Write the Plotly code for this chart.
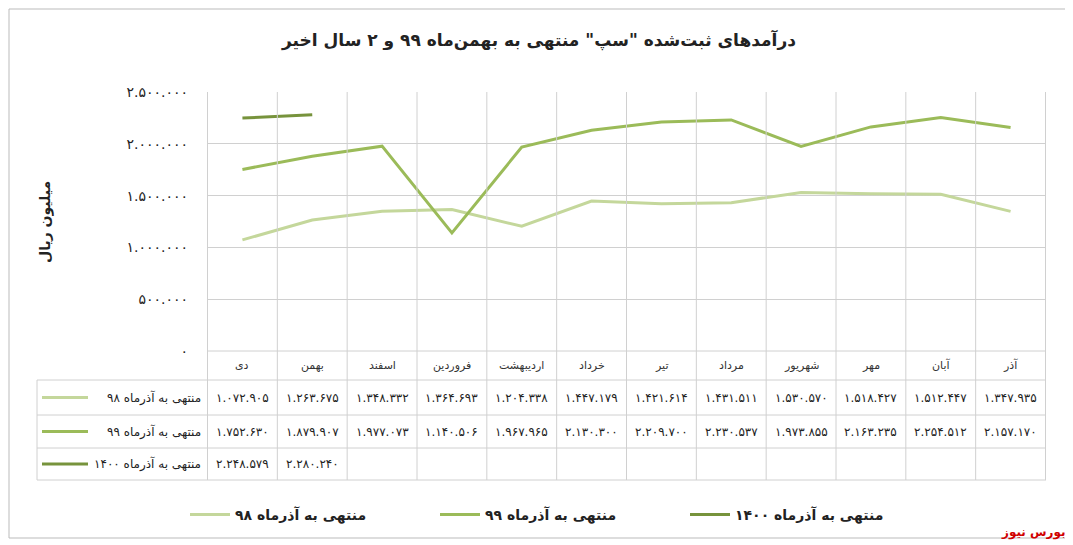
import plotly.graph_objects as go

months = ["آذر", "آبان", "مهر", "شهریور", "مرداد", "تیر", "خرداد",
          "اردیبهشت", "فروردین", "اسفند", "بهمن", "دی"]
series_names = ["منتهی به آذرماه ۹۸", "منتهی به آذرماه ۹۹", "منتهی به آذرماه ۱۴۰۰"]
v98 = [1347935, 1512447, 1518427, 1530570, 1431511, 1421614, 1447179,
       1204338, 1364693, 1348332, 1263675, 1072905]
v99 = [2157170, 2254512, 2163235, 1973855, 2230537, 2209700, 2130300,
       1967965, 1140506, 1977073, 1879907, 1752630]
v1400 = [None] * 10 + [2280240, 2248579]
colors = ["#c4d79b", "#9bbb59", "#77933c"]
y_ticks = [0, 500000, 1000000, 1500000, 2000000, 2500000]

W, H = 1073, 545
OFF = 8  # page body margin
PD = str.maketrans("0123456789", "۰۱۲۳۴۵۶۷۸۹")


def fa(n):
    return f"{n:,}".replace(",", ".").translate(PD)


def py(p):
    return 1 - (p - OFF) / H


def px(p):
    return (p - OFF) / W


def note(x, y, text, size, color="#222", xanchor="center", xref="paper", **kw):
    return dict(x=x, y=y, xref=xref, yref="paper", text=text, showarrow=False,
                xanchor=xanchor, yanchor="middle", font=dict(size=size, color=color), **kw)


fig = go.Figure()
for name, vals, c in zip(series_names, [v98, v99, v1400], colors):
    fig.add_trace(go.Scatter(x=months, y=vals, name=f"<b>{name}</b>", mode="lines",
                             line=dict(color=c, width=3)))

shapes = []
ann = []
grid = dict(color="#d0d0d0", width=1)
row_y = [351, 380, 415, 448, 480]
for i, yy in enumerate(row_y):
    shapes.append(dict(type="line", xref="paper", yref="paper",
                       x0=px(37) if i else px(207), x1=px(1046), y0=py(yy), y1=py(yy), line=grid))
shapes.append(dict(type="line", xref="paper", yref="paper", x0=px(37), x1=px(37),
                   y0=py(380), y1=py(480), line=grid))
for k in range(len(months) + 1):
    shapes.append(dict(type="line", xref="x", yref="paper", x0=k - 0.5, x1=k - 0.5,
                       y0=py(480), y1=py(92), line=grid))
for k, m in enumerate(months):
    ann.append(note(k, py(365), m, 11, "#333", xref="x"))
for r, (vals, name, c) in enumerate(zip([v98, v99, v1400], series_names, colors)):
    yy = py((row_y[r + 1] + row_y[r + 2]) / 2)
    for k, v in enumerate(vals):
        if v is not None:
            ann.append(note(k, yy, fa(v), 12, xref="x"))
    ann.append(note(px(203), yy, name, 12, xanchor="right"))
    shapes.append(dict(type="line", xref="paper", yref="paper", x0=px(42), x1=px(88),
                       y0=yy, y1=yy, line=dict(color=c, width=3)))

shapes.append(dict(type="rect", xref="paper", yref="paper", x0=px(9), x1=px(1066),
                   y0=py(9), y1=py(538), line=dict(color="#bbbbbb", width=1)))
ann.append(note(px(538), py(40),
                "<b>درآمدهای ثبت‌شده \"سپ\" منتهی به بهمن‌ماه ۹۹ و ۲ سال اخیر</b>", 17))
ann.append(note(px(45), py(222), "<b>میلیون ریال</b>", 14, textangle=-90))
ann.append(note(px(1068), py(532), "<b>بورس نیوز</b>", 12, "#d00000", xanchor="right"))

fig.update_layout(
    width=W, height=H, margin=dict(l=0, r=0, t=0, b=0, autoexpand=False),
    paper_bgcolor="white", plot_bgcolor="white",
    font=dict(family="DejaVu Sans"),
    shapes=shapes, annotations=ann,
    xaxis=dict(domain=[px(207), px(1046)], autorange="reversed", showticklabels=False,
               showgrid=False, zeroline=False),
    yaxis=dict(domain=[py(351), py(92)], range=[0, 2500000], tickvals=y_ticks,
               ticktext=[fa(v) for v in y_ticks], showgrid=True, gridcolor="#d0d0d0",
               zeroline=False, tickfont=dict(size=14, color="#222"),
               ticklabelstandoff=18),
    legend=dict(orientation="h", x=px(560), xanchor="center", y=py(515), yanchor="middle",
                font=dict(size=14, color="#222"), itemwidth=40, entrywidth=195),
)
fig.write_html("out.html")
